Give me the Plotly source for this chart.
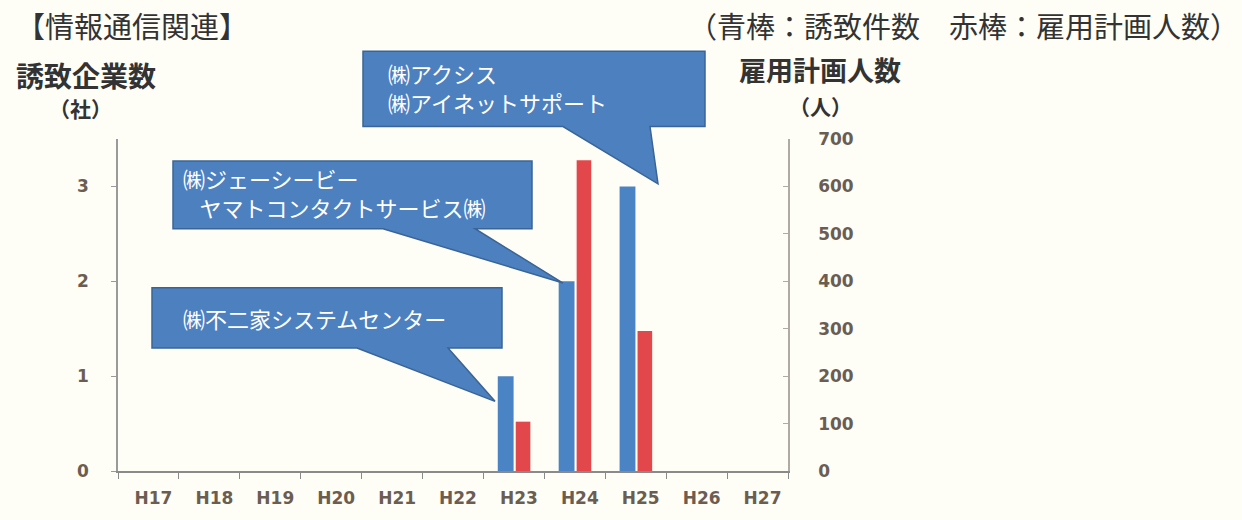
import plotly.graph_objects as go

# ---- data ----
categories = ["H17", "H18", "H19", "H20", "H21", "H22", "H23", "H24", "H25", "H26", "H27"]
companies = [0, 0, 0, 0, 0, 0, 1, 2, 3, 0, 0]          # 誘致企業数（社）
employment = [0, 0, 0, 0, 0, 0, 104, 655, 295, 0, 0]   # 雇用計画人数（人）
left_ticks = [0, 1, 2, 3]
right_ticks = [0, 100, 200, 300, 400, 500, 600, 700]
callout_texts = [
    ["㈱不二家システムセンター"],
    ["㈱ジェーシービー", "\u2002\u2005ヤマトコンタクトサービス㈱"],
    ["㈱アクシス", "㈱アイネットサポート"],
]

# ---- layout geometry (pixels of the 1242x520 window) ----
W, H = 1242, 520
PL, PR, PT, PB = 118, 788, 139, 487


def px(x):
    return (x - PL) / (PR - PL)


def py(y):
    return (PB - y) / (PB - PT)


BLUE = "#4a84c4"
RED = "#e2474b"
CJK = "Noto Sans CJK JP"
TICKC = "#6b5d52"
BG = "#fefef6"

fig = go.Figure()
fig.add_trace(go.Bar(
    x=categories, y=companies, yaxis="y", name="誘致件数",
    marker=dict(color=BLUE, line=dict(width=0)),
    width=0.26, offset=-0.265,
))
fig.add_trace(go.Bar(
    x=categories, y=employment, yaxis="y2", name="雇用計画人数",
    marker=dict(color=RED, line=dict(width=0)),
    width=0.24, offset=0.03,
))

# ---- callouts ----
callout_geom = [
    # box x1, y1, x2, y2, tail base a, tail base b, tip x, tip y
    (152, 295, 502, 358, 357, 448, 495, 414),
    (173, 162, 532, 233, 383, 475, 563, 290),
    (363, 47, 705, 126, 563, 650, 658, 186),
]
text_pos = [(181, 327), (181, 195), (386, 85)]
shapes = []
annotations = []
for (x1, y1, x2, y2, ba, bb, tx, ty), lines, (ax, ay) in zip(callout_geom, callout_texts, text_pos):
    pts = [(x1, y1), (x2, y1), (x2, y2), (bb, y2), (tx, ty), (ba, y2), (x1, y2)]
    path = "M " + " L ".join(f"{px(a):.5f},{py(b):.5f}" for a, b in pts) + " Z"
    shapes.append(dict(type="path", xref="paper", yref="paper", path=path,
                       fillcolor="#4d80bf", line=dict(color="#3a6496", width=1.5), layer="above"))
    annotations.append(dict(text="<br>".join(lines), x=px(ax), y=py(ay), xref="paper", yref="paper",
                            xanchor="left", yanchor="middle", align="left", showarrow=False,
                            font=dict(family=CJK, size=22, color="white")))

# ---- headers / axis titles ----
annotations += [
    dict(text="【情報通信関連】", x=px(14), y=py(20), xanchor="left", yanchor="middle",
         font=dict(family=CJK, size=29, color="#333333")),
    dict(text="（青棒：誘致件数　赤棒：雇用計画人数）", x=px(1241), y=py(20), xanchor="right", yanchor="middle",
         font=dict(family=CJK, size=29, color="#333333")),
    dict(text="<b>誘致企業数</b>", x=px(86), y=py(72), xanchor="center", yanchor="middle",
         font=dict(family=CJK, size=28, color="#333333")),
    dict(text="<b>（社）</b>", x=px(80), y=py(107), xanchor="center", yanchor="middle",
         font=dict(family=CJK, size=21, color="#333333")),
    dict(text="<b>雇用計画人数</b>", x=px(820), y=py(66), xanchor="center", yanchor="middle",
         font=dict(family=CJK, size=27, color="#333333")),
    dict(text="<b>（人）</b>", x=px(821), y=py(104), xanchor="center", yanchor="middle",
         font=dict(family=CJK, size=21, color="#333333")),
]
for a in annotations:
    a.setdefault("xref", "paper")
    a.setdefault("yref", "paper")
    a.setdefault("showarrow", False)

tickfont = dict(family="DejaVu Sans", size=17, color=TICKC, weight="bold")

fig.update_layout(
    width=W, height=H,
    margin=dict(l=PL, r=W - PR, t=PT, b=H - PB, pad=0),
    paper_bgcolor=BG, plot_bgcolor=BG,
    showlegend=False,
    barmode="overlay",
    xaxis=dict(
        type="category", categoryorder="array", categoryarray=categories,
        showline=True, linecolor="#8a8a8a", linewidth=1.5,
        ticks="outside", ticklen=6, tickcolor="#8a8a8a", tickson="boundaries",
        tickfont=tickfont, ticklabelstandoff=11, ticklabelshift=5,
        showgrid=False, zeroline=False,
    ),
    yaxis=dict(
        range=[0, 3.5], tickvals=left_ticks, ticktext=[str(v) for v in left_ticks],
        showline=True, linecolor="#9a9a9a", linewidth=1.5,
        ticks="outside", ticklen=5, tickcolor="#9a9a9a",
        tickfont=tickfont, ticklabelstandoff=19, showgrid=False, zeroline=False,
    ),
    yaxis2=dict(
        range=[0, 700], tickvals=right_ticks, ticktext=[str(v) for v in right_ticks],
        overlaying="y", side="right", anchor="x",
        showline=True, linecolor="#b0aaa5", linewidth=1.5,
        ticks="inside", ticklen=5, tickcolor="#b0aaa5",
        tickfont=tickfont, ticklabelstandoff=25, showgrid=False, zeroline=False,
    ),
    shapes=shapes,
    annotations=annotations,
)

# remove the default page margin so the 1242x520 figure fills the window exactly
post = ("document.documentElement.style.margin='0';document.body.style.margin='0';"
        "document.body.style.overflow='hidden';document.body.style.background='%s';" % BG)
fig.write_html("out.html", post_script=post, config={"displayModeBar": False})
